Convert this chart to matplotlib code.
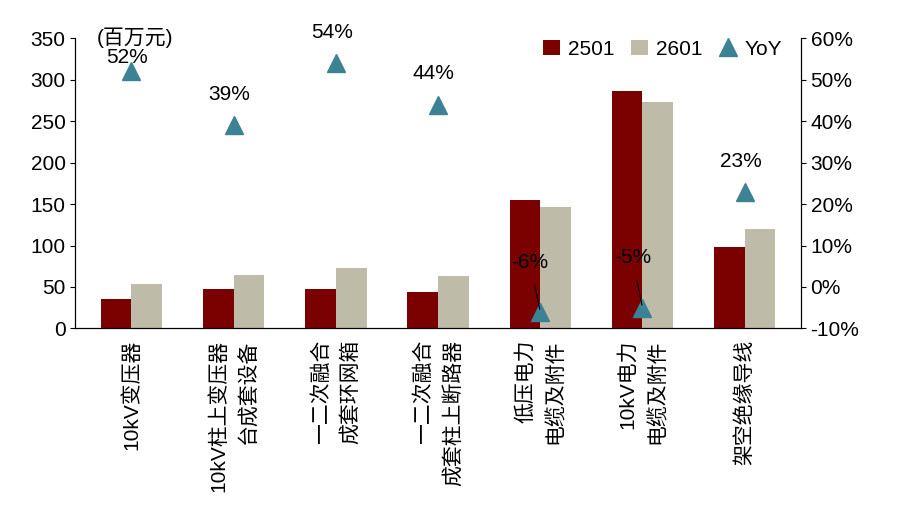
import matplotlib
matplotlib.use("Agg")
import matplotlib.pyplot as plt
import numpy as np

plt.rcParams['font.family'] = ['Liberation Sans', 'Noto Sans CJK SC']

categories = ["10kV变压器", "10kV柱上变压器\n台成套设备", "一二次融合\n成套环网箱",
              "一二次融合\n成套柱上断路器", "低压电力\n电缆及附件", "10kV电力\n电缆及附件", "架空绝缘导线"]
v2501 = [35, 47, 48, 44, 155, 286, 98]
v2601 = [53, 65, 73, 63, 146, 273, 120]
yoy = [52, 39, 54, 44, -6, -5, 23]

fig = plt.figure(figsize=(9.07, 5.23), dpi=100)
ax = fig.add_axes([0.083, 0.372, 0.8, 0.555])
ax2 = ax.twinx()
x = np.arange(len(categories))
w = 0.3
ax.bar(x - w / 2, v2501, w, color="#7B0000", label="2501")
ax.bar(x + w / 2, v2601, w, color="#BEBBA9", label="2601")
ax2.plot(x, yoy, linestyle="none", marker="^", markersize=13, color="#3B8294", label="YoY")
for i, (xi, yi) in enumerate(zip(x, yoy)):
    if yi < 0:
        ax2.annotate(f"{yi}%", (xi, yi), xytext=(xi - 0.1, yi + 12), fontsize=15,
                     ha="center", va="center",
                     arrowprops=dict(arrowstyle="-", color="black", lw=0.8, shrinkA=8))
    else:
        off = 10 if i == 0 else 22
        ax2.annotate(f"{yi}%", (xi, yi), xytext=(-3, off), textcoords="offset points",
                     fontsize=15, ha="center", va="center")

ax.set_ylim(0, 350)
ax.set_yticks(range(0, 351, 50))
ax2.set_ylim(-10, 60)
ax2.set_yticks(range(-10, 61, 10))
ax2.set_yticklabels([f"{t}%" for t in range(-10, 61, 10)])
ax.set_xlim(-0.55, 6.55)
ax.set_xticks(x)
ax.set_xticklabels(categories, rotation=90, ha="center", va="top", multialignment="right",
                   fontsize=15, linespacing=1.6)
ax.tick_params(axis="x", length=0, pad=8)
ax.tick_params(axis="y", labelsize=15)
ax2.tick_params(axis="y", labelsize=15)
for a in (ax, ax2):
    a.spines["top"].set_visible(False)
ax.text(0.03, 1.0, "(百万元)", transform=ax.transAxes, fontsize=15, va="center")

h1, l1 = ax.get_legend_handles_labels()
h2, l2 = ax2.get_legend_handles_labels()
ax.legend(h1 + h2, l1 + l2, loc="upper right", bbox_to_anchor=(1.0, 1.06), ncol=3,
          frameon=False, fontsize=15, handlelength=0.8, columnspacing=0.8, handletextpad=0.4)

fig.savefig("out.png", dpi=100)
